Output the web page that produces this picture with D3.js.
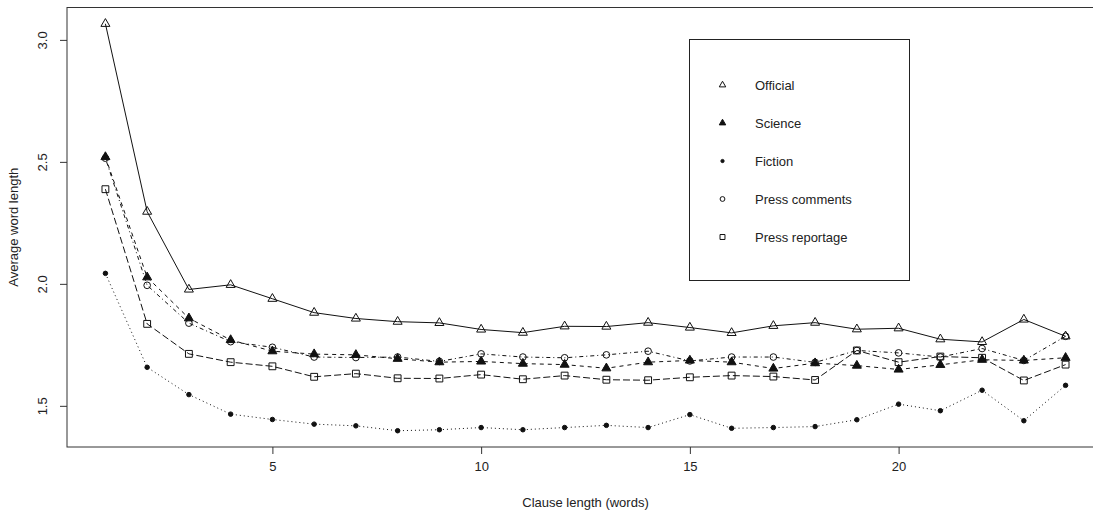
<!DOCTYPE html>
<head lang="en">
<meta charset="utf-8">
<title>Average word length by clause length</title>
<style>
body { margin: 0; background: #fff; }
text { font-family: "Liberation Sans", Arial, sans-serif; fill: #222; }
</style>
<script src="https://cdnjs.cloudflare.com/ajax/libs/d3/7.8.5/d3.min.js"></script>
</head>
<body>
<script>
// Clause length 1..24
var clauseLength = d3.range(1, 25);

var official = [3.066, 2.296, 1.977, 1.996, 1.939, 1.882, 1.858, 1.845, 1.840, 1.813, 1.800, 1.826,
                1.825, 1.841, 1.821, 1.799, 1.828, 1.841, 1.814, 1.818, 1.773, 1.762, 1.854, 1.785];
var science = [2.520, 2.027, 1.859, 1.770, 1.724, 1.712, 1.709, 1.693, 1.679, 1.682, 1.673, 1.669,
               1.654, 1.679, 1.686, 1.679, 1.653, 1.675, 1.665, 1.649, 1.668, 1.689, 1.686, 1.697];
var fiction = [2.043, 1.658, 1.546, 1.466, 1.444, 1.425, 1.418, 1.398, 1.402, 1.411, 1.402, 1.411,
               1.420, 1.411, 1.464, 1.408, 1.411, 1.415, 1.443, 1.507, 1.480, 1.564, 1.439, 1.584];
var pressComments = [2.515, 1.994, 1.839, 1.763, 1.740, 1.700, 1.698, 1.700, 1.682, 1.713, 1.700, 1.697,
                     1.709, 1.724, 1.684, 1.700, 1.700, 1.678, 1.727, 1.717, 1.700, 1.735, 1.686, 1.785];
var pressReportage = [2.388, 1.836, 1.713, 1.679, 1.662, 1.619, 1.632, 1.613, 1.612, 1.628, 1.609, 1.624,
                      1.607, 1.605, 1.617, 1.624, 1.620, 1.606, 1.727, 1.679, 1.702, 1.697, 1.604, 1.669];

var seriesNames = ["Official", "Science", "Fiction", "Press comments", "Press reportage"];
var seriesValues = [official, science, fiction, pressComments, pressReportage];
var xTicks = [5, 10, 15, 20];
var yTicks = [1.5, 2.0, 2.5, 3.0];

// line type and plotting symbol per series (R style lty 1..5)
var dashes = [null, "4,4", "1,3", "1,3,4,3", "7,3"];
var symbols = ["triangleOpen", "triangleFilled", "bullet", "circleOpen", "squareOpen"];

var width = 1093, height = 515;
var plotLeft = 67, plotTop = 7.5, plotBottom = 447, plotRight = 1104;

var svg = d3.select("body").append("svg")
	.attr("width", width)
	.attr("height", height);

// R-like 4% extension of the data range
var allY = d3.merge(seriesValues);
var yMin = d3.min(allY), yMax = d3.max(allY);
var yPad = (yMax - yMin) * 0.04;
var xPad = (24 - 1) * 0.04;

var x = d3.scaleLinear().domain([1 - xPad, 24 + xPad]).range([plotLeft, plotRight]);
var y = d3.scaleLinear().domain([yMin - yPad, yMax + yPad]).range([plotBottom, plotTop]);

// symbol path generator
function symbolPath(kind, s) {
	switch (kind) {
		case "triangleOpen":
		case "triangleFilled":
			var h = s * Math.sqrt(3) / 2;
			return "M0," + (-h * 2 / 3) + "L" + (s / 2) + "," + (h / 3) + "L" + (-s / 2) + "," + (h / 3) + "Z";
		case "bullet":
			return d3.arc()({innerRadius: 0, outerRadius: s * 0.25, startAngle: 0, endAngle: 2 * Math.PI});
		case "circleOpen":
			return d3.arc()({innerRadius: 0, outerRadius: s * 0.37, startAngle: 0, endAngle: 2 * Math.PI});
		case "squareOpen":
			var a = s * 0.38;
			return "M" + (-a) + "," + (-a) + "H" + a + "V" + a + "H" + (-a) + "Z";
	}
}
function isFilled(kind) { return kind === "triangleFilled" || kind === "bullet"; }

var line = d3.line()
	.x(function(d) { return x(d[0]); })
	.y(function(d) { return y(d[1]); });

var clip = svg.append("clipPath").attr("id", "plotclip")
	.append("rect").attr("x", plotLeft).attr("y", plotTop)
	.attr("width", plotRight - plotLeft).attr("height", plotBottom - plotTop);

var plot = svg.append("g").attr("clip-path", "url(#plotclip)");

seriesValues.forEach(function(vals, k) {
	var pts = clauseLength.map(function(c, i) { return [c, vals[i]]; });
	plot.append("path")
		.attr("d", line(pts))
		.attr("fill", "none")
		.attr("stroke", "#111")
		.attr("stroke-width", 1)
		.attr("stroke-dasharray", dashes[k]);
	plot.selectAll(null)
		.data(pts)
		.enter()
		.append("path")
			.attr("transform", function(d) { return "translate(" + x(d[0]) + "," + y(d[1]) + ")"; })
			.attr("d", symbolPath(symbols[k], 9))
			.attr("fill", isFilled(symbols[k]) ? "#111" : "none")
			.attr("stroke", "#111")
			.attr("stroke-width", 1);
});

// frame
svg.append("rect")
	.attr("x", plotLeft).attr("y", plotTop)
	.attr("width", plotRight - plotLeft).attr("height", plotBottom - plotTop)
	.attr("fill", "none").attr("stroke", "#333").attr("stroke-width", 1);

// x axis
var xAxis = svg.append("g")
	.attr("transform", "translate(0," + plotBottom + ")")
	.call(d3.axisBottom(x).tickValues(xTicks).tickSize(7).tickPadding(8));
xAxis.select(".domain").remove();
xAxis.selectAll("line").attr("stroke", "#333");
xAxis.selectAll("text").attr("font-size", 13).attr("font-family", "Liberation Sans, Arial, sans-serif").attr("fill", "#222");

// y axis, labels parallel to axis as in R
var yAxis = svg.append("g")
	.attr("transform", "translate(" + plotLeft + ",0)")
	.call(d3.axisLeft(y).tickValues(yTicks).tickSize(7).tickFormat(d3.format(".1f")));
yAxis.select(".domain").remove();
yAxis.selectAll("line").attr("stroke", "#333");
yAxis.selectAll("text")
	.attr("font-size", 13).attr("font-family", "Liberation Sans, Arial, sans-serif").attr("fill", "#222")
	.attr("text-anchor", "middle")
	.attr("x", null).attr("dy", null)
	.attr("transform", "translate(-20,0) rotate(-90)");

// axis titles
svg.append("text")
	.attr("x", (plotLeft + plotRight) / 2)
	.attr("y", 507)
	.attr("text-anchor", "middle")
	.attr("font-size", 13)
	.text("Clause length (words)");

svg.append("text")
	.attr("transform", "translate(18," + (plotTop + plotBottom) / 2 + ") rotate(-90)")
	.attr("text-anchor", "middle")
	.attr("font-size", 13)
	.text("Average word length");

// legend
var legend = svg.append("g");
legend.append("rect")
	.attr("x", 689.5).attr("y", 39.5).attr("width", 220).attr("height", 241)
	.attr("fill", "#fff").attr("stroke", "#222").attr("stroke-width", 1);

var rows = legend.selectAll("g.row")
	.data(seriesNames)
	.enter()
	.append("g")
		.attr("class", "row")
		.attr("transform", function(d, i) { return "translate(0," + (85 + i * 38) + ")"; });

rows.append("path")
	.attr("transform", "translate(722.5,0)")
	.attr("d", function(d, i) { return symbolPath(symbols[i], 6.5); })
	.attr("fill", function(d, i) { return isFilled(symbols[i]) ? "#111" : "none"; })
	.attr("stroke", "#111")
	.attr("stroke-width", 1);

rows.append("text")
	.attr("x", 755)
	.attr("y", 5)
	.attr("font-size", 13)
	.text(function(d) { return d; });
</script>
</body>
</html>
